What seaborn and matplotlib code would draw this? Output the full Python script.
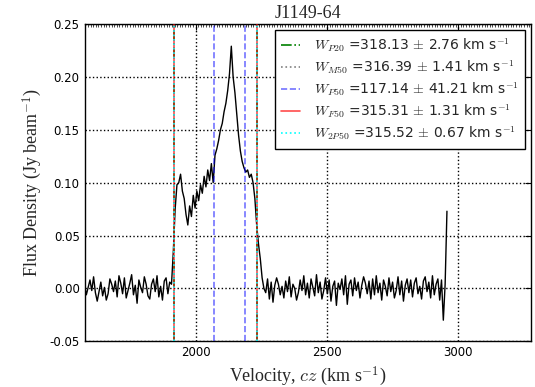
import numpy as np
import pandas as pd
import matplotlib
matplotlib.use("Agg")
import matplotlib.pyplot as plt
from matplotlib.ticker import MultipleLocator
from matplotlib.lines import Line2D
import seaborn as sns

# ---------------- data ----------------
title = "J1149-64"
v_start = 1577.0      # km/s, first channel
v_step = 6.9          # km/s, channel width

noise_left = [0.003, -0.006, 0.001, 0.008, -0.002, 0.011, -0.004, -0.012, -0.003, 0.006,
              -0.007, 0.001, -0.011, -0.005, 0.009, 0.004, -0.003, 0.007, -0.008, 0.012,
              0.005, -0.005, 0.010, -0.009, -0.002, 0.005, 0.013, -0.006, 0.003, -0.014,
              0.008, 0.001, -0.004, 0.011, 0.004, -0.007, -0.010, 0.004, 0.009, -0.003,
              0.012, -0.008, 0.002, -0.011, 0.007, 0.010, -0.005, 0.006]
line_profile = [0.004, 0.035, 0.075, 0.098, 0.100, 0.108, 0.092, 0.085, 0.070, 0.060,
                0.078, 0.068, 0.088, 0.076, 0.092, 0.083, 0.098, 0.090, 0.106, 0.096,
                0.112, 0.102, 0.118, 0.100, 0.126, 0.132, 0.140, 0.150, 0.156, 0.167,
                0.175, 0.187, 0.203, 0.229, 0.200, 0.185, 0.165, 0.145, 0.130, 0.120,
                0.114, 0.110, 0.112, 0.105, 0.108, 0.100, 0.085, 0.060, 0.042, 0.028,
                0.010, 0.000]
noise_right = [-0.004, 0.009, -0.010, 0.006, -0.013, 0.003, 0.010, 0.004, -0.006, 0.002,
               -0.009, 0.007, -0.003, 0.011, -0.008, 0.004, 0.000, -0.011, -0.004, 0.008,
               -0.002, 0.012, -0.006, 0.005, -0.009, 0.009, 0.001, -0.007, 0.013, -0.004,
               0.006, -0.010, -0.002, 0.010, -0.005, 0.008, -0.012, 0.002, 0.007, -0.016,
               0.005, -0.001, 0.009, -0.006, 0.012, -0.015, 0.004, 0.008, -0.007, 0.010,
               -0.002, 0.006, -0.009, 0.003, 0.011, 0.005, -0.005, 0.007, -0.010, 0.009,
               -0.006, 0.012, -0.004, 0.005, -0.011, 0.008, 0.002, -0.007, 0.010, -0.003,
               0.006, -0.009, -0.002, 0.011, -0.006, 0.007, -0.012, 0.003, 0.009, -0.004,
               0.008, -0.008, 0.005, 0.010, -0.005, 0.002, -0.010, 0.007, 0.011, -0.003,
               0.006, -0.009, 0.012, -0.006, 0.004, 0.009, -0.011, 0.008]
edge_spike = [-0.030, 0.004, 0.073]

flux = noise_left + line_profile + noise_right + edge_spike
velocity = v_start + v_step * np.arange(len(flux))

# width measurements: (label name, value, error, low edge, high edge)
w_names = ["P20", "M50", "P50", "F50", "2P50"]
w_values = [318.13, 316.39, 117.14, 315.31, 315.52]
w_errors = [2.76, 1.41, 41.21, 1.31, 0.67]
w_low = [1917.0, 1918.0, 2070.0, 1918.7, 1918.5]
w_high = [2235.1, 2234.4, 2187.1, 2234.0, 2234.0]

# ---------------- style ----------------
sns.set_style("white")
plt.rcParams["mathtext.fontset"] = "cm"
plt.rcParams["font.family"] = ["DejaVu Sans"]

styles = {
    "P20": dict(color="green", ls="-.", alpha=1.0),
    "M50": dict(color="gray", ls=":", alpha=1.0),
    "P50": dict(color="blue", ls="--", alpha=0.55),
    "F50": dict(color="red", ls="-", alpha=0.7),
    "2P50": dict(color="cyan", ls=":", alpha=1.0),
}

fig = plt.figure(figsize=(5.35, 3.87), dpi=100)
ax = fig.add_axes([0.158, 0.118, 0.8345, 0.820])

df = pd.DataFrame({"velocity": velocity, "flux": flux})
sns.lineplot(data=df, x="velocity", y="flux", ax=ax, color="black", lw=1.0,
             estimator=None, sort=False, zorder=3)

handles = []
for name, val, err, lo, hi in zip(w_names, w_values, w_errors, w_low, w_high):
    st = styles[name]
    for xv in (lo, hi):
        ax.axvline(xv, color=st["color"], ls=st["ls"], alpha=st["alpha"], lw=1.2, zorder=4)
    label = r"$W_{%s}$ =%.2f $\pm$ %.2f km s$^{-1}$" % (name, val, err)
    handles.append(Line2D([], [], color=st["color"], ls=st["ls"], alpha=st["alpha"],
                          lw=1.2, label=label))

ax.set_xlim(1577, 3277)
ax.set_ylim(-0.05, 0.25)
ax.xaxis.set_major_locator(MultipleLocator(500))
ax.xaxis.set_minor_locator(MultipleLocator(10))
ax.yaxis.set_major_locator(MultipleLocator(0.05))
ax.yaxis.set_major_formatter(matplotlib.ticker.FormatStrFormatter("%.2f"))

ax.grid(True, which="major", color="black", ls=":", lw=1.0)
ax.tick_params(which="both", direction="in", top=True, right=True, labelsize=8.5,
               colors="black")
ax.tick_params(which="major", length=4, width=0.8)
ax.tick_params(which="minor", length=2, width=0.5)
for sp in ax.spines.values():
    sp.set_color("black")
    sp.set_linewidth(1.0)

ax.set_xlabel(r"Velocity, $cz$ (km s$^{-1}$)", family="Liberation Serif", fontsize=13)
ax.set_ylabel(r"Flux Density (Jy beam$^{-1}$)", family="Liberation Serif", fontsize=13)
ax.set_title(title, family="Liberation Serif", fontsize=13, pad=4)

leg = ax.legend(handles=handles, loc="upper right", fontsize=10, frameon=True,
                fancybox=False, framealpha=1, edgecolor="black", handlelength=1.4,
                handletextpad=1.0, borderpad=0.45, borderaxespad=0.4, labelspacing=0.3)
leg.get_frame().set_linewidth(1.0)

fig.savefig("out.png", dpi=100)
